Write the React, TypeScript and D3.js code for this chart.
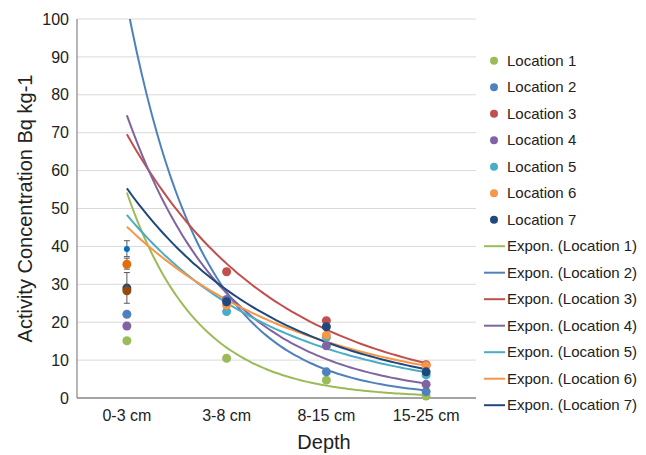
import React from "react";
import * as d3 from "d3";

// depth classes on the x axis
const categories = ["0-3 cm", "3-8 cm", "8-15 cm", "15-25 cm"];
const yTicks = [0, 10, 20, 30, 40, 50, 60, 70, 80, 90, 100];

const locations = ["Location 1", "Location 2", "Location 3", "Location 4", "Location 5", "Location 6", "Location 7"];
const colors = ["#9BBB59", "#4F81BD", "#C0504D", "#8064A2", "#4BACC6", "#F79646", "#1F497D"];

// measured values per location (null = no point drawn)
const loc1 = [15.1, 10.5, 4.7, 0.5];
const loc2 = [22.1, 26.0, 6.9, 1.7];
const loc3 = [null, 33.3, 20.4, 8.8];
const loc4 = [19.0, 25.8, 13.8, 3.6];
const loc5 = [null, 22.8, 16.0, 6.1];
const loc6 = [null, 24.5, 16.6, 8.5];
const loc7 = [29.0, 25.4, 18.8, 6.9];
const series = [loc1, loc2, loc3, loc4, loc5, loc6, loc7];

// exponential trend lines: value at first and last depth class
const trendStart = [54.2, 104, 69.6, 74.6, 48.3, 45.2, 55.3];
const trendEnd = [0.8, 2.0, 9.2, 3.8, 6.8, 8.5, 7.6];

// extra mean points with error bars at 0-3 cm
const meanValues = [39.3, 35.3, 28.3];
const meanLow = [37.3, 34.0, 25.0];
const meanHigh = [41.5, 36.9, 33.1];
const meanColors = ["#0070C0", "#E46C0A", "#984807"];
const meanRadius = [3, 4.5, 4.5];

const W = 646, H = 455;
const left = 77, right = 476, top = 19, bottom = 398;
const font = "'Liberation Sans', Arial, sans-serif";

export default function App() {
  const x = d3.scaleLinear().domain([0.5, 4.5]).range([left, right]);
  const y = d3.scaleLinear().domain([0, 100]).range([bottom, top]);

  const trendPath = (i: number) => {
    const b = Math.log(trendEnd[i] / trendStart[i]) / 3;
    const a = trendStart[i] / Math.exp(b);
    const pts = d3.range(1, 4.001, 0.05).map((t) => [t, a * Math.exp(b * t)] as [number, number]);
    return d3.line<[number, number]>().x((d) => x(d[0])).y((d) => y(d[1])).curve(d3.curveMonotoneX)(pts) || "";
  };

  const legendY = d3.scaleLinear().domain([0, 1]).range([60.7, 87.2]);

  return (
    <svg width={W} height={H} style={{ position: "absolute", left: 0, top: 0 }} fontFamily={font}>
      <rect width={W} height={H} fill="#fff" />
      <defs>
        <clipPath id="plot">
          <rect x={left} y={top} width={right - left} height={bottom - top} />
        </clipPath>
      </defs>
      {yTicks.map((t) => (
        <g key={t}>
          {t > 0 && <line x1={left} x2={right} y1={y(t)} y2={y(t)} stroke="#D9D9D9" strokeWidth={1} />}
          <text x={left - 8} y={y(t)} dy="0.35em" textAnchor="end" fontSize={16} fill="#222">{t}</text>
        </g>
      ))}
      <line x1={left} x2={left} y1={top} y2={bottom} stroke="#868686" strokeWidth={1.2} />
      <line x1={left} x2={right} y1={bottom} y2={bottom} stroke="#868686" strokeWidth={1.5} />
      {categories.map((c, i) => (
        <text key={c} x={x(i + 1)} y={bottom + 23} textAnchor="middle" fontSize={16} fill="#222">{c}</text>
      ))}
      <text x={324} y={449} textAnchor="middle" fontSize={20} fill="#222">Depth</text>
      <text transform={`translate(32,${(top + bottom) / 2}) rotate(-90)`} textAnchor="middle" fontSize={20} fill="#222">
        Activity Concentration Bq kg-1
      </text>

      <g clipPath="url(#plot)">
        {trendStart.map((_, i) => (
          <path key={i} d={trendPath(i)} fill="none" stroke={colors[i]} strokeWidth={2} />
        ))}
      </g>

      {series.map((s, i) =>
        s.map((v, j) =>
          v == null ? null : <circle key={`${i}-${j}`} cx={x(j + 1)} cy={y(v)} r={4.5} fill={colors[i]} />
        )
      )}

      {meanValues.map((v, i) => (
        <g key={i} stroke="#595959" strokeWidth={1}>
          <line x1={x(1)} x2={x(1)} y1={y(meanLow[i])} y2={y(meanHigh[i])} />
          <line x1={x(1) - 3} x2={x(1) + 3} y1={y(meanLow[i])} y2={y(meanLow[i])} />
          <line x1={x(1) - 3} x2={x(1) + 3} y1={y(meanHigh[i])} y2={y(meanHigh[i])} />
          <circle cx={x(1)} cy={y(v)} r={meanRadius[i]} fill={meanColors[i]} stroke="none" />
        </g>
      ))}

      {locations.map((name, i) => (
        <g key={name} transform={`translate(0,${legendY(i)})`}>
          <circle cx={494} cy={0} r={4} fill={colors[i]} />
          <text x={507} y={0} dy="0.35em" fontSize={15} fill="#222">{name}</text>
        </g>
      ))}
      {locations.map((name, i) => (
        <g key={"t" + name} transform={`translate(0,${legendY(i + 7)})`}>
          <line x1={484} x2={505} y1={0} y2={0} stroke={colors[i]} strokeWidth={2} />
          <text x={507} y={0} dy="0.35em" fontSize={15} fill="#222">{`Expon. (${name})`}</text>
        </g>
      ))}
    </svg>
  );
}
